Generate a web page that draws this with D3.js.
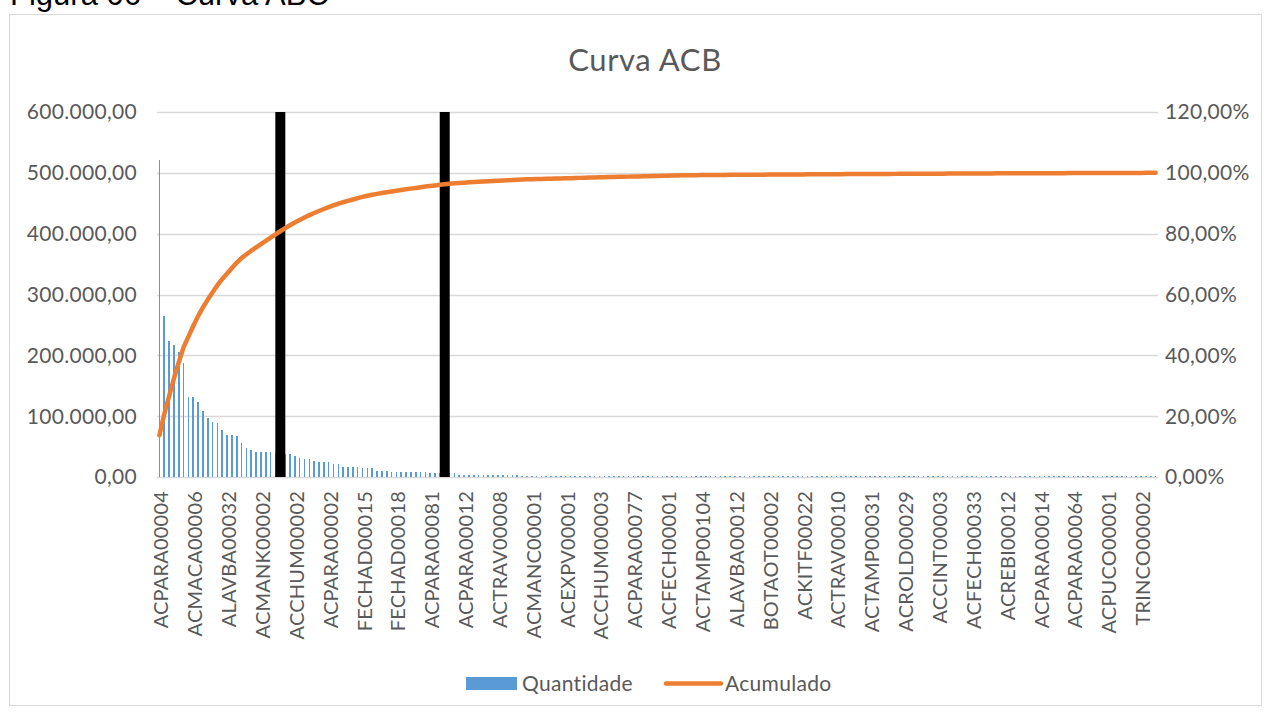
<!DOCTYPE html>
<html><head><meta charset="utf-8">
<script src="https://cdn.jsdelivr.net/npm/d3@7"></script>
<style>
html,body{margin:0;padding:0;background:#fff;}
svg{display:block;}
</style></head>
<body>
<svg id="chart" width="1272" height="713"></svg>
<script>
// ---- data ----
const figureCaption = "Figura 06 – Curva ABC";
const chartTitle = "Curva ACB";
const seriesNames = ["Quantidade", "Acumulado"];
// every 7th category label (categories are in Pareto order, 207 in total)
const tickLabels = ["ACPARA00004","ACMACA00006","ALAVBA00032","ACMANK00002","ACCHUM00002","ACPARA00002",
  "FECHAD00015","FECHAD00018","ACPARA00081","ACPARA00012","ACTRAV00008","ACMANC00001","ACEXPV00001",
  "ACCHUM00003","ACPARA00077","ACFECH00001","ACTAMP00104","ALAVBA00012","BOTAOT00002","ACKITF00022",
  "ACTRAV00010","ACTAMP00031","ACROLD00029","ACCINT00003","ACFECH00033","ACREBI00012","ACPARA00014",
  "ACPARA00064","ACPUCO00001","TRINCO00002"];
const labelStep = 7;
// Quantidade per category
const quantidade = [
  521000,264000,224000,217000,206000,188000,132000,132000,123000,109000,
  97000,91000,89000,77000,69000,69000,67000,56000,48000,44000,
  41000,41000,41000,41000,40000,39000,38000,37000,34000,32000,
  30000,30000,27000,25000,24000,24000,22000,22000,17000,17000,
  17000,17000,15000,14000,14000,10500,10500,10500,8800,8800,
  8800,8800,8800,8800,8800,8800,7000,7000,7000,7000,
  6800,6600,3500,3300,3600,3300,3300,3500,3300,3300,
  3200,3500,3200,3600,3500,2000,1900,1800,1800,1700,
  1700,1700,1700,1600,1600,1600,1600,1600,1600,1600,
  1600,1600,1600,1600,1500,1500,1500,1500,1500,1500,
  1500,1500,1500,1500,1400,1400,1400,1400,1400,1400,
  500,500,500,500,500,500,500,500,500,500,
  400,400,400,400,400,400,400,400,400,400,
  400,400,400,400,400,400,400,400,400,400,
  300,300,300,300,300,300,300,300,300,300,
  300,300,300,300,300,300,300,300,300,300,
  300,300,300,300,300,300,300,300,300,300,
  300,300,300,300,300,200,200,200,200,200,
  200,200,200,200,200,200,200,200,200,200,
  200,200,200,200,200,200,200,200,200,200,
  200,200,200,200,200,200,200
];
// A / B / C class boundaries (category index of the black markers)
const classBreaks = [25, 59];
const leftTicks = [0,100000,200000,300000,400000,500000,600000];
const rightTicks = [0,0.2,0.4,0.6,0.8,1.0,1.2];

// ---- layout ----
const svg = d3.select("#chart");
const plot = {left:157, right:1158, top:112, bottom:477};
const textColor = "#595959";
const font = "Lato, 'Open Sans', sans-serif";

const locale = d3.formatLocale({decimal:",", thousands:".", grouping:[3], currency:["R$",""]});
const fmtNum = locale.format(",.2f");
const fmtPct = v => locale.format(".2f")(v*100) + "%";

const idx = d3.range(quantidade.length);
const x = d3.scaleBand().domain(idx).range([plot.left, plot.right]);
const yL = d3.scaleLinear().domain([0,600000]).range([plot.bottom, plot.top]);
const yR = d3.scaleLinear().domain([0,1.2]).range([plot.bottom, plot.top]);

const total = d3.sum(quantidade);
const acumulado = Array.from(d3.cumsum(quantidade), v => v/total);

// caption above the chart (cut off at the top in the source)
svg.append("text").attr("x",10).attr("y",5)
  .attr("font-family","'Liberation Sans', Arial, sans-serif").attr("font-size",31)
  .attr("fill","#000").text(figureCaption);

// chart frame
svg.append("rect").attr("x",9.5).attr("y",14.5).attr("width",1252).attr("height",691)
  .attr("fill","#fff").attr("stroke","#d9d9d9").attr("stroke-width",1);

// title
svg.append("text").attr("x",645).attr("y",71).attr("text-anchor","middle")
  .attr("font-family",font).attr("font-size",31).attr("letter-spacing",0.6)
  .attr("fill",textColor).text(chartTitle);

// gridlines
svg.append("g").selectAll("line").data(leftTicks).join("line")
  .attr("x1",plot.left).attr("x2",plot.right)
  .attr("y1",d=>Math.round(yL(d))+0.5).attr("y2",d=>Math.round(yL(d))+0.5)
  .attr("stroke","#d9d9d9").attr("stroke-width",1.5);

// left axis labels
svg.append("g").selectAll("text").data(leftTicks).join("text")
  .attr("x",137).attr("y",d=>yL(d)).attr("dy","0.35em").attr("text-anchor","end")
  .attr("font-family",font).attr("font-size",21).attr("letter-spacing",0.3).attr("fill",textColor)
  .text(d=>fmtNum(d));

// right axis labels
svg.append("g").selectAll("text").data(rightTicks).join("text")
  .attr("x",1165).attr("y",d=>yR(d)).attr("dy","0.35em").attr("text-anchor","start")
  .attr("font-family",font).attr("font-size",21).attr("letter-spacing",0.3).attr("fill",textColor)
  .text(d=>fmtPct(d));

// bars
const bw = x.bandwidth();
svg.append("g").attr("shape-rendering","crispEdges").selectAll("rect").data(idx).join("rect")
  .attr("x",i=>x(i)+bw/3).attr("width",bw/3)
  .attr("y",i=>Math.min(yL(quantidade[i]), plot.bottom-1.5))
  .attr("height",i=>Math.max(1.5, plot.bottom-yL(quantidade[i])))
  .attr("fill","#5b9bd5");

// class markers
svg.append("g").selectAll("rect").data(classBreaks).join("rect")
  .attr("x",i=>x(i)+bw/2-5).attr("width",10)
  .attr("y",yL(600000)).attr("height",yL(0)-yL(600000))
  .attr("fill","#000");

// cumulative line
const line = d3.line().x(i=>x(i)+bw/2).y(i=>yR(acumulado[i]));
svg.append("path").datum(idx).attr("d",line)
  .attr("fill","none").attr("stroke","#ed7d31").attr("stroke-width",4.5)
  .attr("stroke-linejoin","round").attr("stroke-linecap","round");

// x labels
svg.append("g").selectAll("text").data(tickLabels).join("text")
  .attr("transform",(d,k)=>`translate(${x(k*labelStep)+bw/2+2},491) rotate(-90)`)
  .attr("dy","0.35em").attr("text-anchor","end")
  .attr("font-family",font).attr("font-size",20).attr("letter-spacing",0.2).attr("fill",textColor)
  .text(d=>d);

// legend
const lg = svg.append("g");
lg.append("rect").attr("x",466).attr("y",677).attr("width",51).attr("height",13).attr("fill","#5b9bd5");
lg.append("text").attr("x",522).attr("y",684).attr("dy","0.35em")
  .attr("font-family",font).attr("font-size",21).attr("letter-spacing",0.3).attr("fill",textColor).text(seriesNames[0]);
lg.append("line").attr("x1",666).attr("x2",721).attr("y1",683.5).attr("y2",683.5)
  .attr("stroke","#ed7d31").attr("stroke-width",4.5).attr("stroke-linecap","round");
lg.append("text").attr("x",725).attr("y",684).attr("dy","0.35em")
  .attr("font-family",font).attr("font-size",21).attr("letter-spacing",0.3).attr("fill",textColor).text(seriesNames[1]);
</script>
</body></html>
